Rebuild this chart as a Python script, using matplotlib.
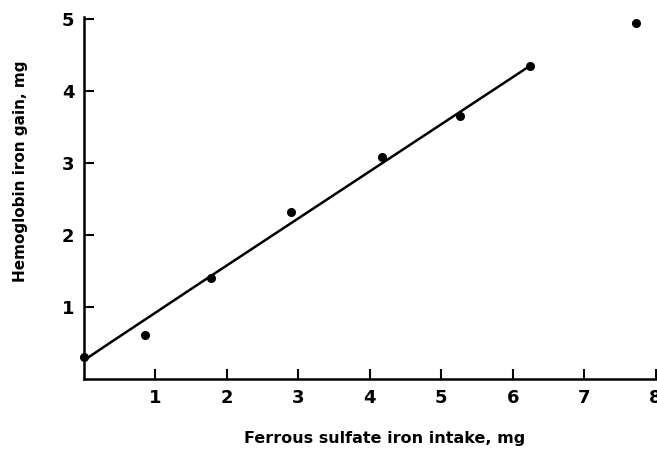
import matplotlib.pyplot as plt

# Data
intake = [0.0, 0.85, 1.78, 2.90, 4.17, 5.26, 6.24, 7.72]
gain = [0.31, 0.61, 1.40, 2.32, 3.08, 3.65, 4.35, 4.94]

# fitted line drawn through the points
fit_x = [0.0, 0.36, 1.62, 6.24]
fit_y = [0.26, 0.50, 1.33, 4.35]

x_ticks = [1, 2, 3, 4, 5, 6, 7, 8]
y_ticks = [1, 2, 3, 4, 5]

plt.rcParams['font.family'] = ['DejaVu Sans']
plt.rcParams['font.weight'] = 'bold'

fig = plt.figure(figsize=(6.57, 4.49), dpi=100)
ax = fig.add_axes([84 / 657, 1 - 379 / 449, (657 - 84) / 657, (379 - 17) / 449])

ax.plot(fit_x, fit_y, color='black', lw=1.8)
ax.plot(intake, gain, 'o', color='black', ms=5.5, clip_on=False)

ax.set_xlim(0, 8.02)
ax.set_ylim(0, 5.03)
ax.set_xticks(x_ticks)
ax.set_yticks(y_ticks)
ax.tick_params(direction='in', length=7, width=1.5, labelsize=13, pad=7)

for side in ['top', 'right']:
    ax.spines[side].set_visible(False)
for side in ['left', 'bottom']:
    ax.spines[side].set_linewidth(1.8)

ax.set_xlabel('Ferrous sulfate iron intake, mg', fontsize=11.5, fontweight='bold')
ax.set_ylabel('Hemoglobin iron gain, mg', fontsize=11, fontweight='bold')
ax.xaxis.set_label_coords(0.525, -0.144)
ax.yaxis.set_label_coords(-0.098, 0.575)

fig.savefig('out.png', dpi=100)
